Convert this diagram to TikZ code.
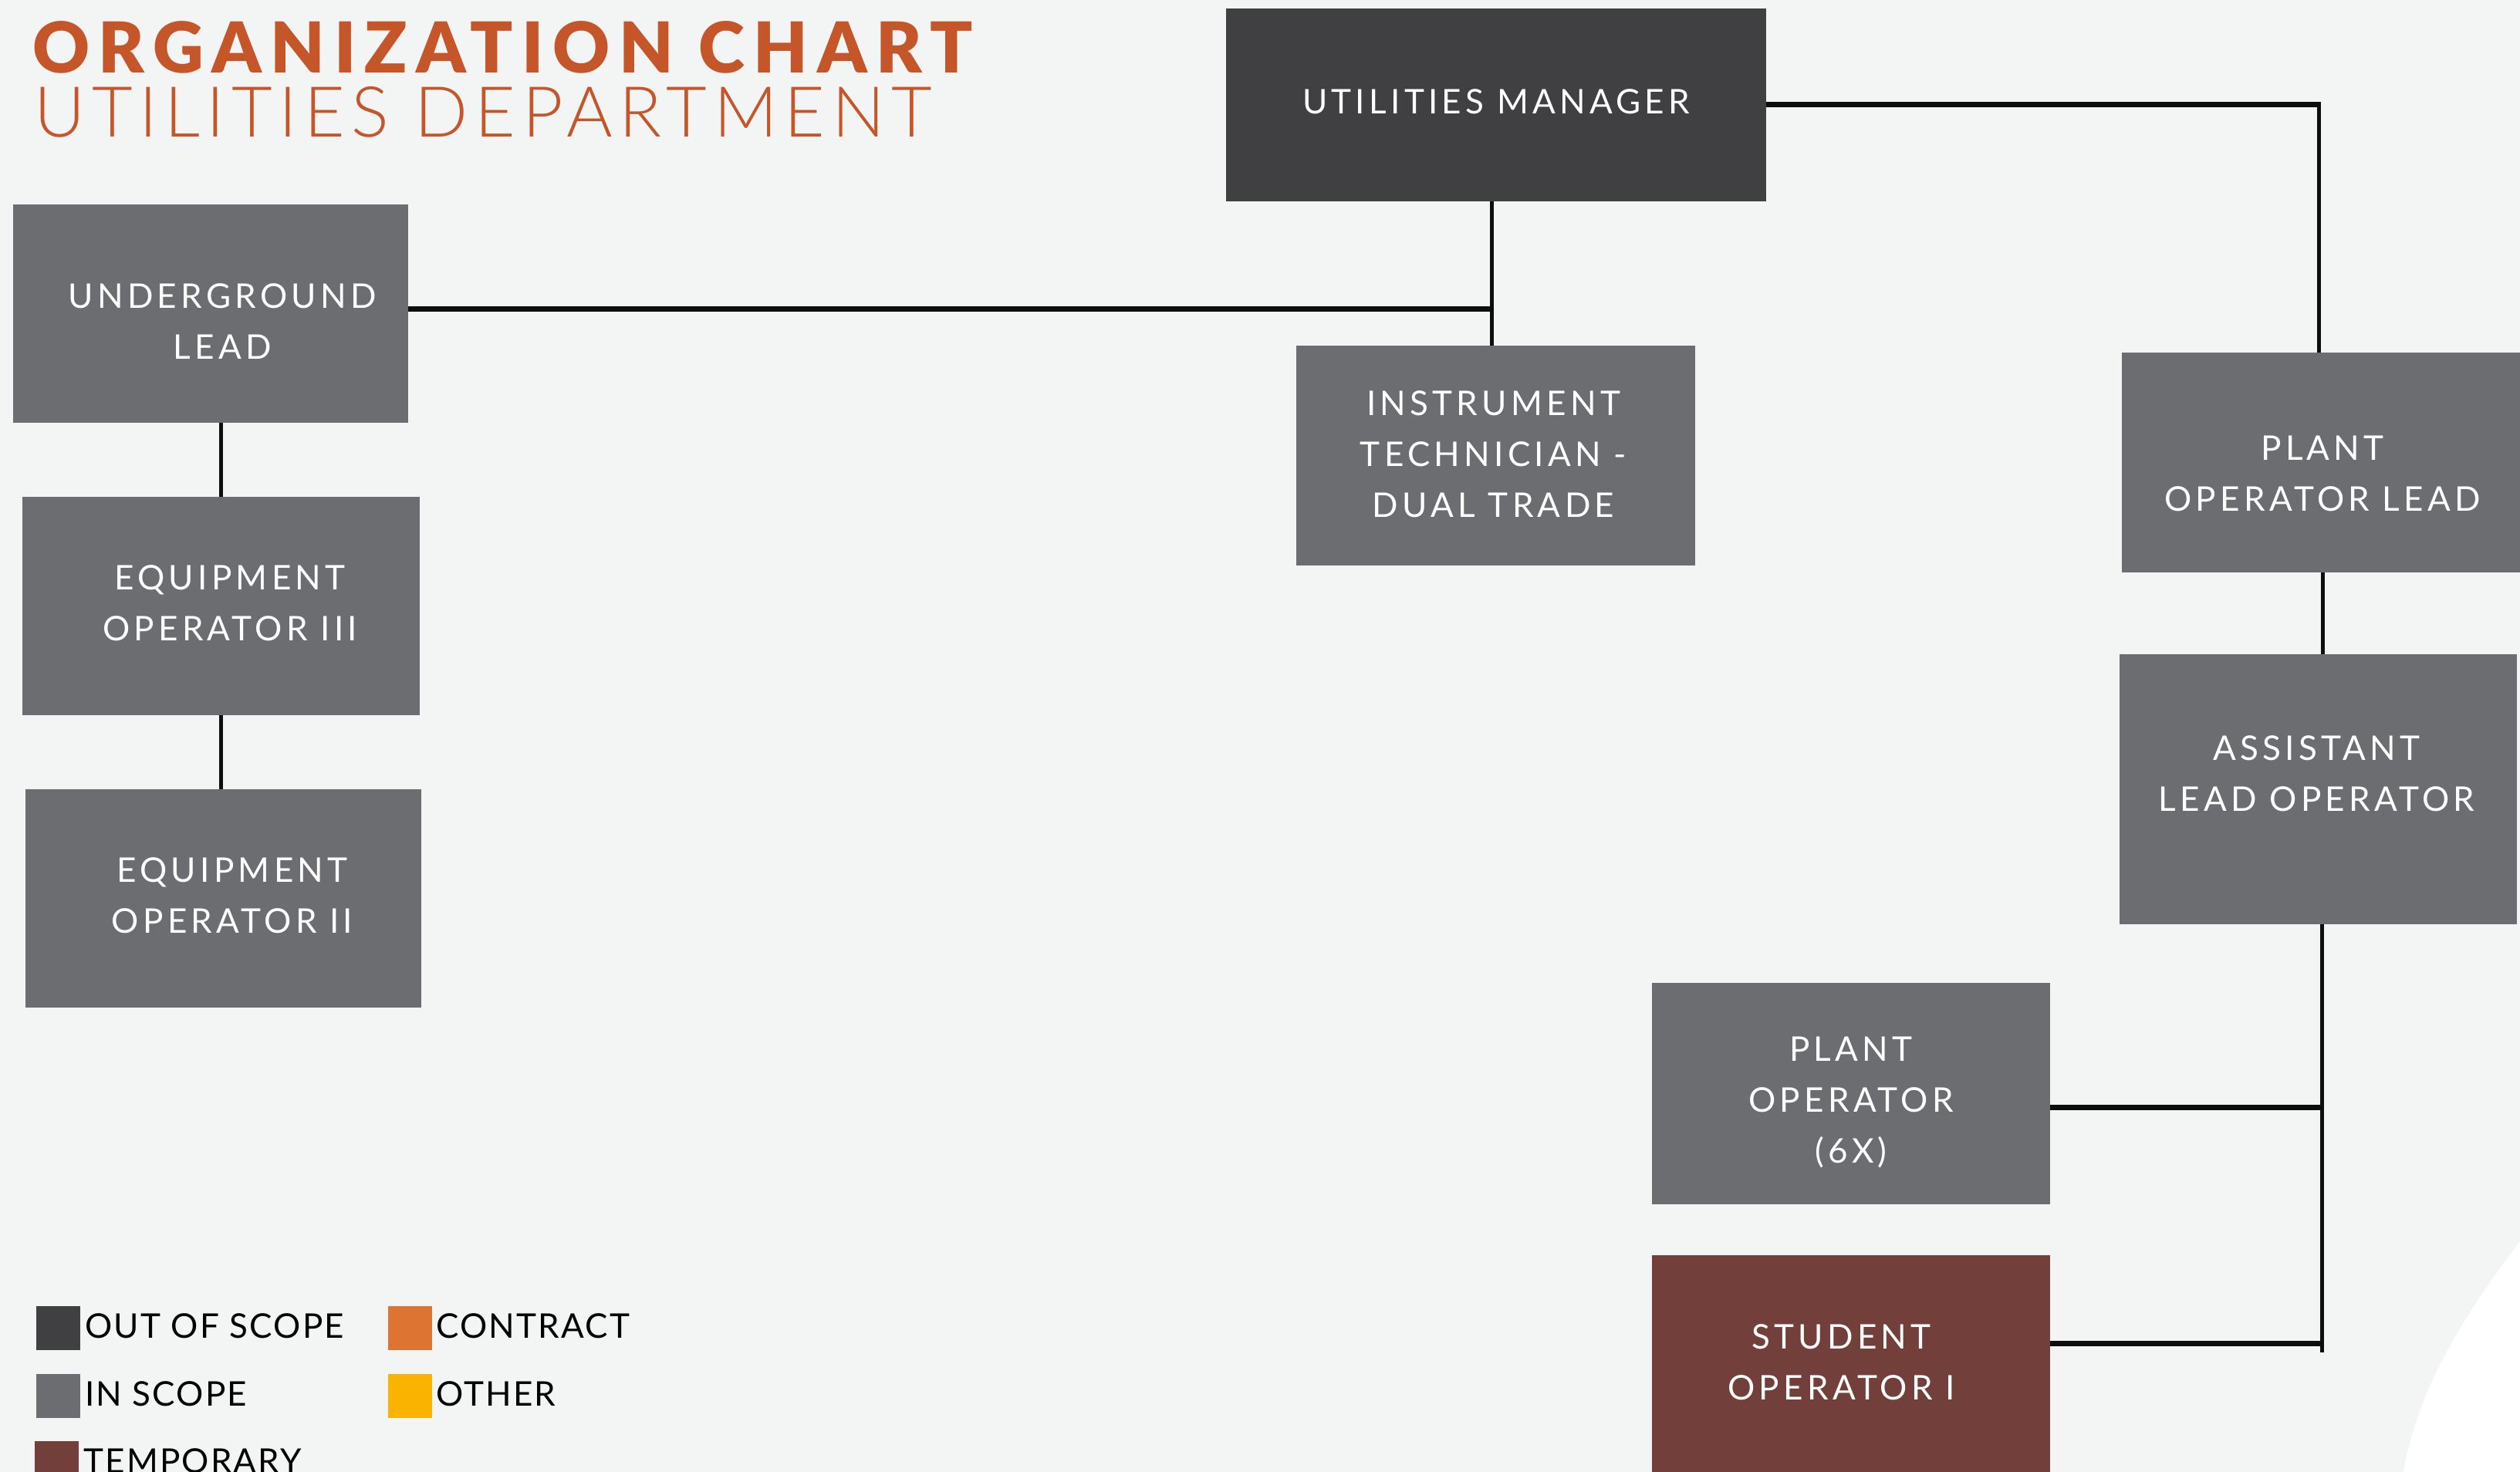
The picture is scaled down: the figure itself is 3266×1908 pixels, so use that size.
\documentclass[tikz,border=0pt]{standalone}
\usepackage{fontspec}
\setmainfont{Lato}
\newfontfamily\boxfont[LetterSpace=12]{Lato}
\newfontfamily\legfont[LetterSpace=5]{Lato}
\newfontfamily\titlefont[LetterSpace=12.7]{Lato Black}
\newfontfamily\subfont[LetterSpace=9.6]{Lato Light}
\definecolor{bgmarble}{HTML}{F3F4F4}
\definecolor{outscope}{HTML}{404042}
\definecolor{inscope}{HTML}{6C6D71}
\definecolor{temporary}{HTML}{733F3A}
\definecolor{contract}{HTML}{DE7431}
\definecolor{otherc}{HTML}{FAB400}
\definecolor{titlec}{HTML}{C4562A}
\begin{document}
\begin{tikzpicture}[x=1pt,y=-1pt,
  orgbox/.style={inner sep=0pt},
  boxtext/.style={inner sep=0pt, align=center, text=white,
    font=\boxfont\fontsize{44}{66}\selectfont},
  hline/.style={line width=7pt, black!95},
  vline/.style={line width=5pt, black!95},
  legsq/.style={minimum width=57pt, minimum height=57pt, inner sep=0pt, anchor=north west},
  legtxt/.style={anchor=base west, inner sep=0pt, font=\legfont\fontsize{44}{50}\selectfont, text=black}]
\useasboundingbox (0,0) rectangle (3266,1908);
\clip (0,0) rectangle (3266,1908);
% background
\fill[bgmarble] (0,0) rectangle (3266,1908);
% white paper corner
\fill[white] (3266,1609) .. controls (3205,1690) and (3135,1790) .. (3115,1908) -- (3266,1908) -- cycle;
% title
\node[anchor=base west, inner sep=0pt, text=titlec, font=\titlefont\fontsize{91}{100}\selectfont] (t1) at (42,95) {ORGANIZATION CHART};
\node[anchor=base west, inner sep=0pt, text=titlec, font=\subfont\fontsize{91}{100}\selectfont] (t2) at (44,178) {UTILITIES DEPARTMENT};
% boxes
\node[orgbox, fill=outscope, minimum width=700pt, minimum height=250pt] (mgr) at (1939,136) {};
\node[orgbox, fill=inscope, minimum width=512pt, minimum height=283pt] (ul) at (273,406.5) {};
\node[orgbox, fill=inscope, minimum width=517pt, minimum height=285pt] (it) at (1938.5,590.5) {};
\node[orgbox, fill=inscope, minimum width=520pt, minimum height=285pt] (pol) at (3010,599.5) {};
\node[orgbox, fill=inscope, minimum width=515pt, minimum height=283pt] (eo3) at (286.5,785.5) {};
\node[orgbox, fill=inscope, minimum width=513pt, minimum height=283pt] (eo2) at (289.5,1164.5) {};
\node[orgbox, fill=inscope, minimum width=515pt, minimum height=350pt] (ala) at (3004.5,1023) {};
\node[orgbox, fill=inscope, minimum width=516pt, minimum height=287pt] (po) at (2399,1417.5) {};
\node[orgbox, fill=temporary, minimum width=516pt, minimum height=287pt] (stu) at (2399,1770.5) {};
% box texts
\node[boxtext] (mgrt) at ([yshift=4pt]mgr.center) {UTILITIES MANAGER};
\node[boxtext] (ult) at ([xshift=15pt,yshift=-10pt]ul.center) {UNDERGROUND\\LEAD};
\node[boxtext] (itt) at ([xshift=-3pt,yshift=2pt]it.center) {INSTRUMENT\\TECHNICIAN -\\DUAL TRADE};
\node[boxtext] (polt) at ([yshift=-14.5pt]pol.center) {PLANT\\OPERATOR LEAD};
\node[boxtext] (eo3t) at ([xshift=11.5pt,yshift=4pt]eo3.center) {EQUIPMENT\\OPERATOR III};
\node[boxtext] (eo2t) at ([xshift=11.5pt,yshift=4pt]eo2.center) {EQUIPMENT\\OPERATOR II};
\node[boxtext] (alat) at ([xshift=-2pt,yshift=20pt]ala.center) {ASSISTANT\\LEAD OPERATOR};
\node[boxtext] (pot) at ([yshift=-11.5pt]po.center) {PLANT\\OPERATOR\\(6X)};
\node[boxtext] (stut) at ([xshift=-12.5pt,yshift=5pt]stu.center) {STUDENT\\OPERATOR I};
% connectors
\coordinate (mgrlow) at ([xshift=-6pt]mgr.south);
\coordinate (ulline) at ([yshift=6.5pt]ul.east);
\coordinate (poline) at ([yshift=-17.5pt]po.east);
\coordinate (stuline) at ([yshift=29.5pt]stu.east);
\coordinate (polx) at ([xshift=-5pt]pol.north);
\coordinate (alax) at ([xshift=4.5pt]ala.south);
\draw[vline] (mgrlow) -- (mgrlow |- it.north);
\draw[hline] (ulline) -- (ulline -| mgrlow);
\draw[hline] (mgr.east) -- (polx |- mgr.east);
\draw[vline] ([yshift=3.5pt]polx |- mgr.east) -- (polx);
\draw[vline] (pol.south) -- (pol.south |- ala.north);
\draw[vline] (alax) -- ([yshift=-12pt]alax |- stuline);
\draw[hline] (poline) -- (poline -| alax);
\draw[hline] (stuline) -- (stuline -| alax);
\draw[vline] (eo3.north |- ul.south) -- (eo3.north);
\draw[vline] (eo3.south) -- (eo3.south |- eo2.north);
% legend
\node[legsq, fill=outscope] (lg1) at (47,1693) {};
\node[legsq, fill=inscope] (lg2) at (47,1781) {};
\node[legsq, fill=temporary] (lg3) at (45,1868) {};
\node[legsq, fill=contract] (lg4) at (503,1693) {};
\node[legsq, fill=otherc] (lg5) at (503,1781) {};
\node[legtxt] (lt1) at (110,1734) {OUT OF SCOPE};
\node[legtxt] (lt2) at (110,1822) {IN SCOPE};
\node[legtxt] (lt3) at (108,1909) {TEMPORARY};
\node[legtxt] (lt4) at (565,1734) {CONTRACT};
\node[legtxt] (lt5) at (565,1822) {OTHER};
\end{tikzpicture}
\end{document}
